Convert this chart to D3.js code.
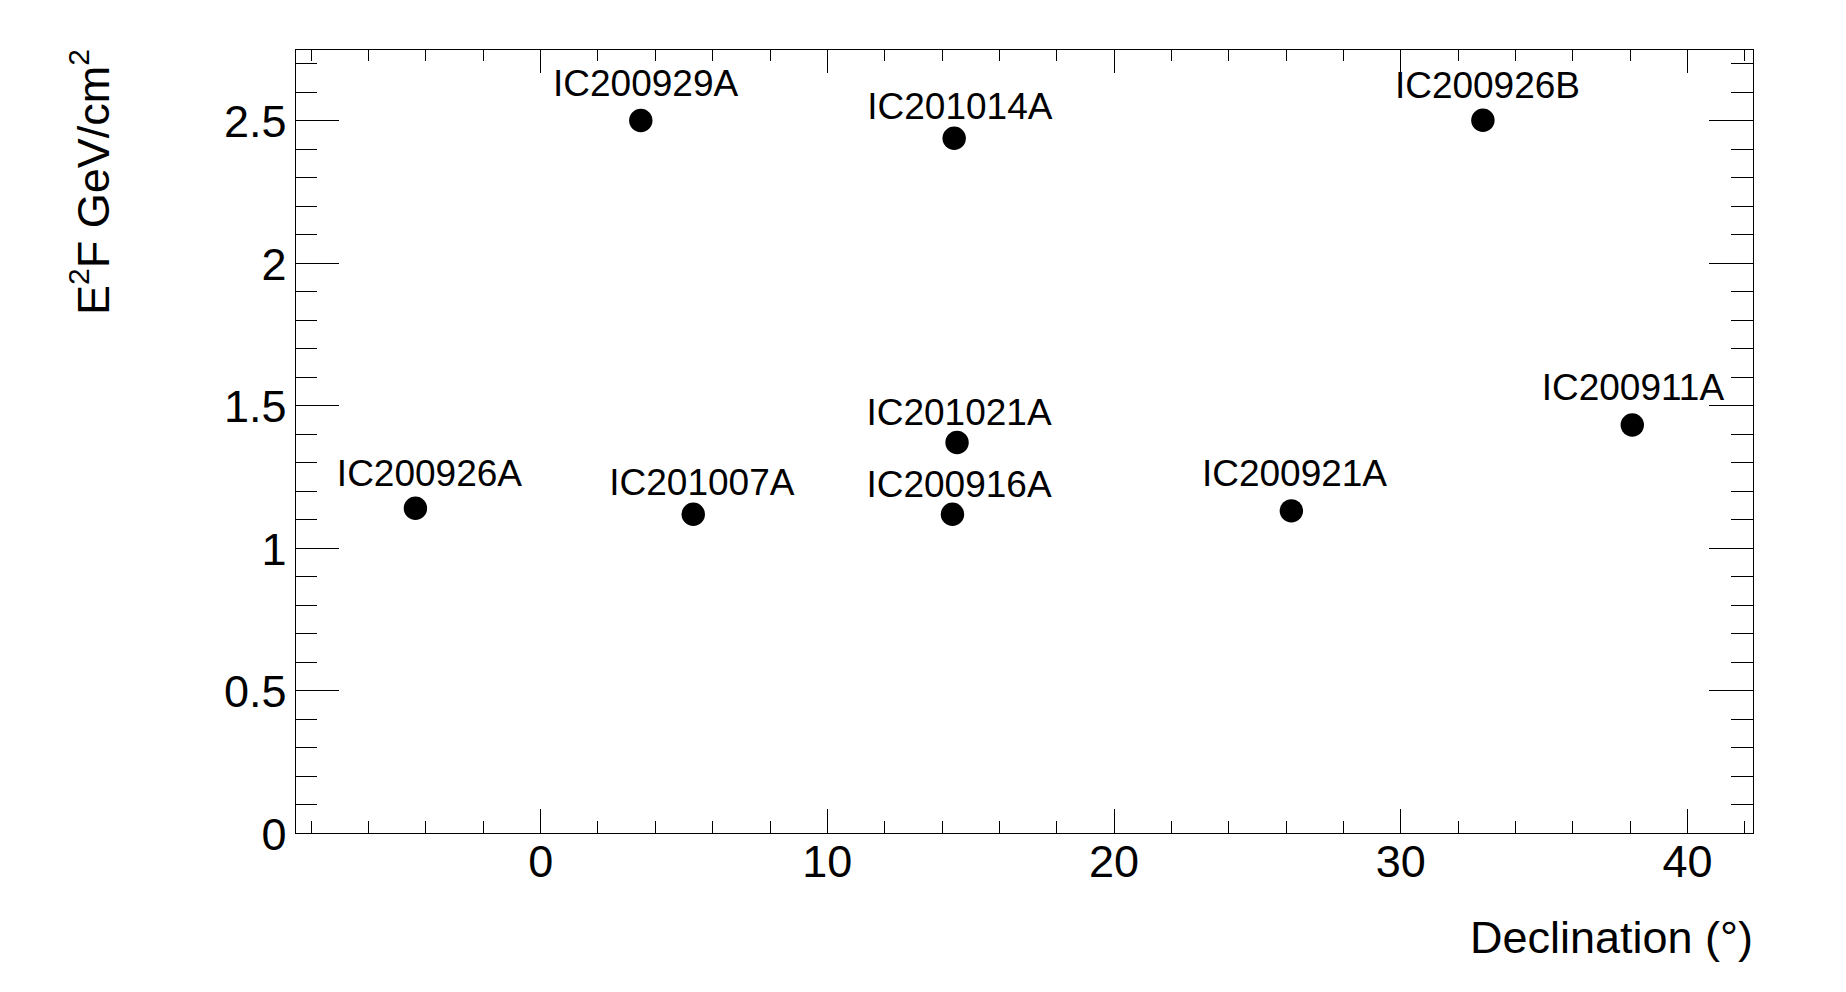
<!DOCTYPE html>
<html>
<head>
<meta charset="utf-8">
<script src="https://cdn.jsdelivr.net/npm/d3@7"></script>
<style>
  html, body { margin: 0; padding: 0; background: #fff; }
  svg { display: block; }
  text { font-family: "Liberation Sans", Arial, Helvetica, sans-serif; fill: #000; }
</style>
</head>
<body>
<svg id="chart" width="1846" height="992"></svg>
<script>
// ---- data ----
const names = ["IC200926A","IC200929A","IC201007A","IC201014A","IC201021A","IC200916A","IC200921A","IC200926B","IC200911A"];
const declination = [-4.35, 3.51, 5.34, 14.44, 14.54, 14.38, 26.2, 32.88, 38.09];
const e2f = [1.139, 2.499, 1.118, 2.437, 1.370, 1.118, 1.130, 2.500, 1.431];
// label anchors (left edge / baseline) in data units
const labelX = [-7.09, 0.45, 2.41, 11.41, 11.38, 11.38, 23.08, 29.81, 34.93];
const labelY = [1.218, 2.585, 1.184, 2.503, 1.432, 1.179, 1.218, 2.577, 1.519];
const xMajorTicks = [0, 10, 20, 30, 40];
const yMajorTicks = [0, 0.5, 1, 1.5, 2, 2.5];
const yTickLabels = ["0", "0.5", "1", "1.5", "2", "2.5"];
const xDomain = [-8.55, 42.3];
const yDomain = [0, 2.75];
const xTitle = "Declination (°)";

// ---- layout ----
const L = 295, R = 1753, T = 49, B = 833;
const svg = d3.select("#chart");
const x = d3.scaleLinear().domain(xDomain).range([L, R]);
const y = d3.scaleLinear().domain(yDomain).range([B, T]);

const xMinor = d3.range(-8, 42.01, 2).filter(v => !xMajorTicks.includes(v));
const yMinor = d3.range(0, 27.5, 1).map(v => +(v / 10).toFixed(1)).filter(v => !yMajorTicks.includes(v));

const xMajLen = 24, xMinLen = 12, yMajLen = 43.7, yMinLen = 21.9;

function styleAxis(g) {
  g.select(".domain").remove();
  g.selectAll(".tick line").attr("stroke", "#000").attr("stroke-width", 1).attr("shape-rendering", "crispEdges");
}

// bottom axis (major with labels)
svg.append("g").attr("transform", `translate(0,${B})`)
  .call(d3.axisBottom(x).tickValues(xMajorTicks).tickSizeInner(-xMajLen).tickSizeOuter(0).tickFormat(d3.format("d")))
  .call(styleAxis)
  .call(g => g.selectAll(".tick text").attr("y", 44).attr("dy", null)
    .attr("font-size", 45).attr("font-family", '"Liberation Sans", Arial, sans-serif').attr("fill", "#000"));
svg.append("g").attr("transform", `translate(0,${B})`)
  .call(d3.axisBottom(x).tickValues(xMinor).tickSizeInner(-xMinLen).tickSizeOuter(0).tickFormat(""))
  .call(styleAxis);
// top axis
svg.append("g").attr("transform", `translate(0,${T})`)
  .call(d3.axisTop(x).tickValues(xMajorTicks).tickSizeInner(-xMajLen).tickSizeOuter(0).tickFormat(""))
  .call(styleAxis);
svg.append("g").attr("transform", `translate(0,${T})`)
  .call(d3.axisTop(x).tickValues(xMinor).tickSizeInner(-xMinLen).tickSizeOuter(0).tickFormat(""))
  .call(styleAxis);
// left axis
svg.append("g").attr("transform", `translate(${L},0)`)
  .call(d3.axisLeft(y).tickValues(yMajorTicks).tickSizeInner(-yMajLen).tickSizeOuter(0)
    .tickFormat((d, i) => yTickLabels[i]))
  .call(styleAxis)
  .call(g => g.selectAll(".tick text").attr("x", -8.5).attr("dy", "0.36em")
    .attr("font-size", 45).attr("font-family", '"Liberation Sans", Arial, sans-serif').attr("fill", "#000"));
svg.append("g").attr("transform", `translate(${L},0)`)
  .call(d3.axisLeft(y).tickValues(yMinor).tickSizeInner(-yMinLen).tickSizeOuter(0).tickFormat(""))
  .call(styleAxis);
// right axis
svg.append("g").attr("transform", `translate(${R},0)`)
  .call(d3.axisRight(y).tickValues(yMajorTicks).tickSizeInner(-yMajLen).tickSizeOuter(0).tickFormat(""))
  .call(styleAxis);
svg.append("g").attr("transform", `translate(${R},0)`)
  .call(d3.axisRight(y).tickValues(yMinor).tickSizeInner(-yMinLen).tickSizeOuter(0).tickFormat(""))
  .call(styleAxis);

// frame
svg.append("rect")
  .attr("x", L + 0.5).attr("y", T + 0.5)
  .attr("width", R - L).attr("height", B - T)
  .attr("fill", "none").attr("stroke", "#000").attr("stroke-width", 1)
  .attr("shape-rendering", "crispEdges");

// points
const data = names.map((n, i) => ({ n, x: declination[i], y: e2f[i], lx: labelX[i], ly: labelY[i] }));
svg.append("g").selectAll("circle").data(data).join("circle")
  .attr("cx", d => x(d.x)).attr("cy", d => y(d.y)).attr("r", 11.7).attr("fill", "#000");

// labels
svg.append("g").selectAll("text").data(data).join("text")
  .attr("x", d => x(d.lx)).attr("y", d => y(d.ly))
  .attr("font-size", 37).text(d => d.n);

// x axis title
svg.append("text").attr("x", R).attr("y", 953).attr("text-anchor", "end")
  .attr("font-size", 45).text(xTitle);

// y axis title: E^2F GeV/cm^2 (rotated)
const yt = svg.append("text")
  .attr("transform", `translate(109,${T}) rotate(-90)`)
  .attr("text-anchor", "end").attr("font-size", 45);
yt.append("tspan").text("E");
yt.append("tspan").attr("font-size", 30).attr("dy", -20).text("2");
yt.append("tspan").attr("dy", 20).text("F GeV/cm");
yt.append("tspan").attr("font-size", 30).attr("dy", -20).text("2");
</script>
</body>
</html>
